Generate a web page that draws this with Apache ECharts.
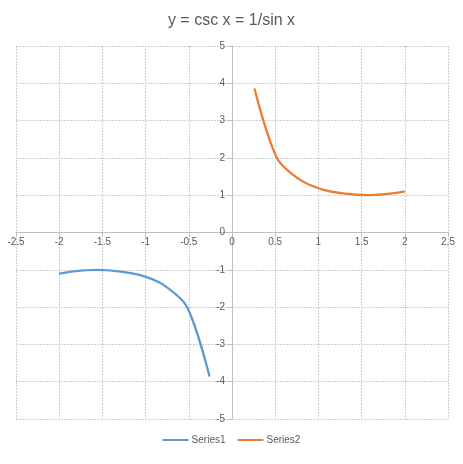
<!DOCTYPE html>
<html><head><meta charset="utf-8">
<script src="https://cdn.jsdelivr.net/npm/echarts@6/dist/echarts.min.js"></script>
<style>html,body{margin:0;padding:0;background:#fff}#c{width:463px;height:464px}</style>
</head><body><div id="c"></div>
<script>
var title = 'y = csc x = 1/sin x';
var s1x = [-2.00, -1.83, -1.57, -1.31, -1.05, -0.79, -0.52, -0.26];
var s1y = [-1.10, -1.04, -1.00, -1.04, -1.15, -1.41, -2.00, -3.86];
var s2x = [0.26, 0.52, 0.79, 1.05, 1.31, 1.57, 1.83, 2.00];
var s2y = [3.86, 2.00, 1.41, 1.15, 1.04, 1.00, 1.04, 1.10];
var seriesNames = ['Series1', 'Series2'];
var colors = ['#5B9BD5', '#ED7D31'];
function pairs(xs, ys){ return xs.map(function(x,i){return [x, ys[i]];}); }
var font = 'Liberation Sans';
var G = {left: 16, right: 15, top: 46, bottom: 45};
var W = 463, H = 464;
var xMin = -2.5, xMax = 2.5, yMin = -5, yMax = 5;
var gw = W - G.left - G.right, gh = H - G.top - G.bottom;
// offsets to place axes at the zero crossing
var xOff = -gh * (0 - yMin) / (yMax - yMin);
var yOff = -gw * (0 - xMin) / (xMax - xMin);
var chart = echarts.init(document.getElementById('c'), null, {renderer:'canvas'});
chart.setOption({
  animation: false,
  title: {text: title, left: 'center', top: 8, textStyle: {fontFamily: font, fontSize: 16, fontWeight: 'normal', color: '#595959'}},
  legend: {bottom: 14, itemWidth: 26, itemHeight: 2, itemGap: 12, icon: 'rect',
    textStyle: {fontFamily: font, fontSize: 10, color: '#595959', padding:[0,0,0,-2]}, data: seriesNames},
  grid: G,
  xAxis: {type: 'value', min: xMin, max: xMax, interval: 0.5, position: 'bottom', offset: xOff,
    axisLine: {onZero: false, lineStyle: {color: '#bfbfbf', width: 1}},
    axisTick: {show: true, length: 4, inside: false, lineStyle: {color: '#bfbfbf'}},
    axisLabel: {fontFamily: font, fontSize: 10, color: '#595959', margin: 5},
    splitLine: {show: true, lineStyle: {color: '#cfcfcf', type: [2,1]}}},
  yAxis: {type: 'value', min: yMin, max: yMax, interval: 1, position: 'left', offset: yOff,
    axisLine: {onZero: false, lineStyle: {color: '#bfbfbf', width: 1}},
    axisTick: {show: true, length: 4, lineStyle: {color: '#bfbfbf'}},
    axisLabel: {fontFamily: font, fontSize: 10, color: '#595959', margin: 7},
    splitLine: {show: true, lineStyle: {color: '#cfcfcf', type: [2,1]}}},
  series: [
    {name: seriesNames[0], type: 'line', data: pairs(s1x, s1y), smooth: 0.3, showSymbol: false,
     lineStyle: {width: 2.25, color: colors[0]}, itemStyle: {color: colors[0]}},
    {name: seriesNames[1], type: 'line', data: pairs(s2x, s2y), smooth: 0.3, showSymbol: false,
     lineStyle: {width: 2.25, color: colors[1]}, itemStyle: {color: colors[1]}}
  ]
});
</script></body></html>
